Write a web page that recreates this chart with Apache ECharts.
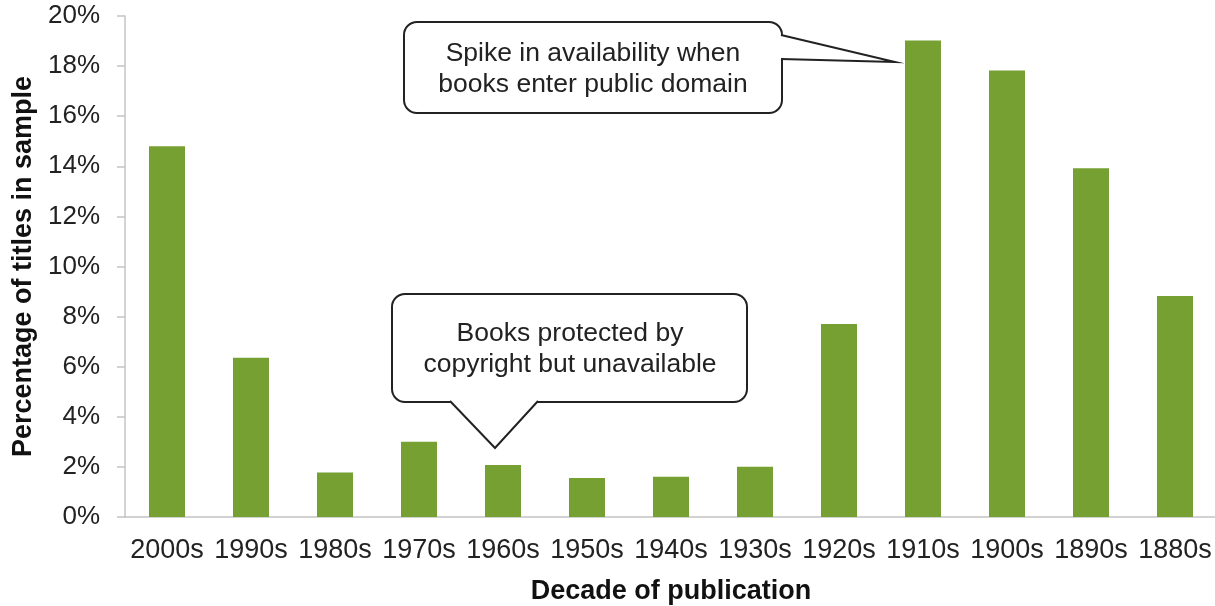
<!DOCTYPE html>
<html>
<head>
<meta charset="utf-8">
<script src="https://cdn.jsdelivr.net/npm/echarts@6.0.0/dist/echarts.min.js"></script>
<style>
  html, body { margin: 0; padding: 0; background: #fff; }
  #chart { width: 1215px; height: 606px; }
</style>
</head>
<body>
<div id="chart"></div>
<script>
  var decades = ['2000s', '1990s', '1980s', '1970s', '1960s', '1950s', '1940s', '1930s', '1920s', '1910s', '1900s', '1890s', '1880s'];
  var shares = [14.8, 6.36, 1.78, 3.0, 2.08, 1.56, 1.61, 2.01, 7.7, 19.02, 17.82, 13.92, 8.82];
  var notes = [
    ['Spike in availability when', 'books enter public domain'],
    ['Books protected by', 'copyright but unavailable']
  ];

  var FONT = 'Liberation Sans, Arial, sans-serif';
  var chart = echarts.init(document.getElementById('chart'), null, { renderer: 'canvas' });

  // rounded box + pointer wedge (base points p1,p2 on the box edge, tip t)
  function callout(box, p1, p2, t, lines, cx, cy) {
    return [
      {
        type: 'rect', z: 10,
        shape: { x: box[0], y: box[1], width: box[2], height: box[3], r: 13 },
        style: { fill: '#fff', stroke: '#222', lineWidth: 2 }
      },
      {
        // white patch hiding the box edge under the wedge
        type: 'polygon', z: 11,
        shape: { points: [p1, t, p2] },
        style: { fill: '#fff', stroke: null }
      },
      {
        type: 'polyline', z: 12,
        shape: { points: [p1, t, p2] },
        style: { stroke: '#222', lineWidth: 2, fill: null }
      },
      {
        type: 'text', z: 13,
        style: {
          x: cx, y: cy, text: lines.join('\n'), fill: '#222',
          font: '26.5px ' + FONT, align: 'center', verticalAlign: 'middle', lineHeight: 31
        }
      }
    ];
  }

  var graphics = []
    .concat(callout([404, 22, 378, 91], [781, 35], [781, 59], [895, 62], notes[0], 593, 69))
    .concat(callout([392, 294, 355, 108], [538, 401], [450, 401], [495, 448], notes[1], 570, 349));

  chart.setOption({
    animation: false,
    textStyle: { fontFamily: FONT },
    grid: { left: 125, top: 16, width: 1092, height: 501, outerBoundsMode: 'none', containLabel: false },
    xAxis: {
      type: 'category',
      data: decades,
      name: 'Decade of publication',
      nameLocation: 'middle',
      nameGap: 61,
      nameTextStyle: { fontSize: 27, fontWeight: 'bold', color: '#111' },
      axisLine: { lineStyle: { color: '#c4c4c4', width: 1.5 } },
      axisTick: { show: false },
      axisLabel: { fontSize: 27, color: '#222', margin: 20, interval: 0 }
    },
    yAxis: {
      type: 'value',
      min: 0, max: 20, interval: 2,
      name: 'Percentage of titles in sample',
      nameLocation: 'middle',
      nameGap: 85,
      nameTextStyle: { fontSize: 27, fontWeight: 'bold', color: '#111' },
      axisLine: { show: true, lineStyle: { color: '#c4c4c4', width: 1.5 } },
      axisTick: { show: true, length: 8, lineStyle: { color: '#c4c4c4', width: 1.5 } },
      splitLine: { show: false },
      axisLabel: { fontSize: 26, color: '#222', margin: 25, formatter: '{value}%' }
    },
    series: [{
      type: 'bar',
      data: shares,
      barWidth: 36,
      itemStyle: { color: '#77a032' }
    }],
    graphic: graphics
  });

  window.addEventListener('resize', function () { chart.resize(); });
</script>
</body>
</html>
